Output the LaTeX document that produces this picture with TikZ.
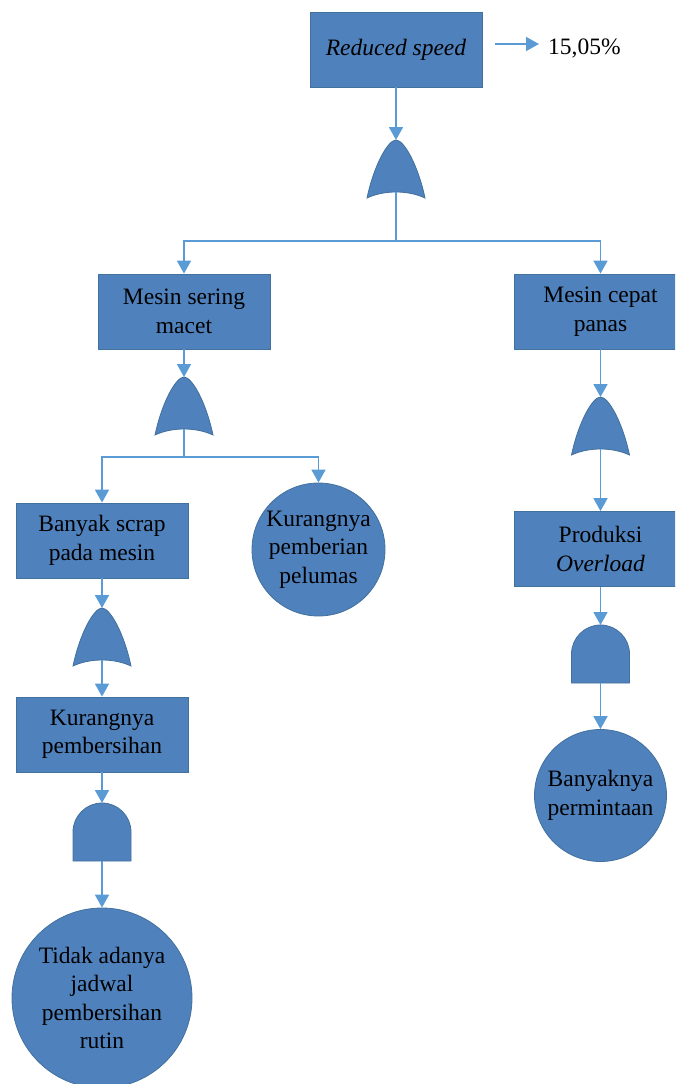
\documentclass[tikz,border=0pt]{standalone}
\usepackage{fontspec}
\setmainfont{Liberation Serif}
\usetikzlibrary{arrows.meta}
\definecolor{fillblue}{HTML}{4F81BD}
\definecolor{edgeblue}{HTML}{41719C}
\definecolor{linkblue}{HTML}{5B9BD5}
\tikzset{
  txt/.style={font=\fontsize{23.5}{28.5}\selectfont},
  evbox/.style={txt, rectangle, fill=fillblue, draw=edgeblue, line width=0.8pt,
    minimum width=172pt, minimum height=75pt, align=center, inner sep=0pt},
  basicev/.style={txt, circle, fill=fillblue, draw=edgeblue, line width=0.8pt,
    align=center, inner sep=0pt},
  link/.style={draw=linkblue, line width=1.8pt},
  arr/.style={link, -{Triangle[length=13pt,width=14pt]}},
  gateshape/.style={fill=fillblue, draw=edgeblue, line width=0.8pt},
  orgate/.pic={
    \path[gateshape] (-29,58) .. controls (-22,25) and (-8,0) .. (0,0)
      .. controls (8,0) and (22,25) .. (29,58)
      .. controls (12,50) and (-12,50) .. cycle;
    \coordinate (-top) at (0,0);
    \coordinate (-bot) at (0,52);
  },
  andgate/.pic={
    \path[gateshape] (-29,58) -- (-29,29) .. controls (-29,13) and (-16,0) .. (0,0)
      .. controls (16,0) and (29,13) .. (29,29) -- (29,58) -- cycle;
    \coordinate (-top) at (0,0);
    \coordinate (-bot) at (0,58);
  }
}
\begin{document}
\begin{tikzpicture}[x=1pt,y=-1pt]
\useasboundingbox (0,0) rectangle (675,1084);
\clip (0,0) rectangle (675,1084);

% nodes
\node[evbox] (top) at (396,49.5) {\itshape Reduced speed};
\node[txt, anchor=west, inner sep=0pt] (pct) at (548,48) {15,05\%};
\coordinate (a1) at (495,44);
\coordinate (a2) at (539,44);

\pic (g1) at (396,140) {orgate};
\coordinate (j1) at (396,241);

\node[evbox] (b1) at (184,311.5) {Mesin sering\\macet};
\node[evbox] (b2) at (600.5,311.5) {Mesin cepat\\panas};

\pic (g2) at (184,377) {orgate};
\coordinate (j2) at (184,457);

\node[evbox] (b3) at (102,540.5) {Banyak scrap\\pada mesin};
\node[basicev, minimum size=133pt] (c1) at (318.5,549.5) {Kurangnya\\pemberian\\pelumas};

\pic (g3) at (102,608) {orgate};
\node[evbox] (b4) at (102,734.5) {Kurangnya\\pembersihan};
\pic (g4) at (102,803) {andgate};
\node[basicev, minimum size=180pt] (c2) at (102,998) {Tidak adanya\\jadwal\\pembersihan\\rutin};

\pic (g5) at (600.5,397) {orgate};
\node[evbox] (b5) at (600.5,549) {Produksi\\\textit{Overload}};
\pic (g6) at (600.5,625) {andgate};
\node[basicev, minimum size=132pt] (c3) at (600.5,795.5) {Banyaknya\\permintaan};

% connectors
\draw[arr] (a1) -- (a2);
\draw[arr] (top.south) -- (g1-top);
\draw[link] (g1-bot) -- (j1);
\draw[arr] (j1) -| (b1.north);
\draw[arr] (j1) -| (b2.north);

\draw[arr] (b1.south) -- (g2-top);
\draw[link] (g2-bot) -- (j2);
\draw[arr] (j2) -| (b3.north);
\draw[arr] (j2) -| (c1.north);

\draw[arr] (b3.south) -- (g3-top);
\draw[arr] (g3-bot) -- (b4.north);
\draw[arr] (b4.south) -- (g4-top);
\draw[arr] (g4-bot) -- (c2.north);

\draw[arr] (b2.south) -- (g5-top);
\draw[arr] (g5-bot) -- (b5.north);
\draw[arr] (b5.south) -- (g6-top);
\draw[arr] (g6-bot) -- (c3.north);
\end{tikzpicture}
\end{document}
